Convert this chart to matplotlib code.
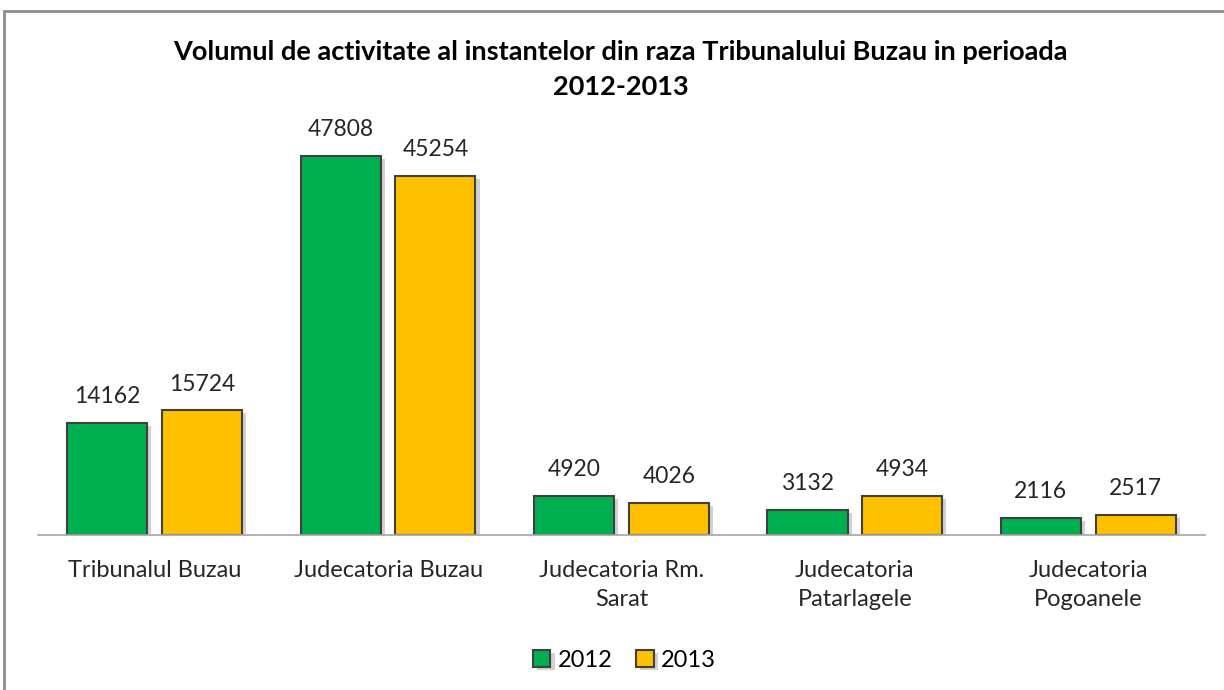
import matplotlib.pyplot as plt
import matplotlib.patheffects as pe
from matplotlib.patches import Rectangle
import numpy as np

categories = ['Tribunalul Buzau', 'Judecatoria Buzau', 'Judecatoria Rm.\nSarat',
              'Judecatoria\nPatarlagele', 'Judecatoria\nPogoanele']
values_2012 = [14162, 47808, 4920, 3132, 2116]
values_2013 = [15724, 45254, 4026, 4934, 2517]

fig = plt.figure(figsize=(12.24, 6.9), dpi=100)
ax = fig.add_axes([0.031, 0.2246, 0.9535, 0.6014])

x = np.arange(len(categories))
w = 0.343
shadow = [pe.SimplePatchShadow(offset=(3, -2), shadow_rgbFace='#000000', alpha=0.18), pe.Normal()]

b1 = ax.bar(x - 0.203, values_2012, w, color='#00B050', edgecolor='#404040', linewidth=1.5,
            label='2012', path_effects=shadow)
b2 = ax.bar(x + 0.203, values_2013, w, color='#FFC000', edgecolor='#404040', linewidth=1.5,
            label='2013', path_effects=shadow)

for bars in (b1, b2):
    for r in bars:
        ax.text(r.get_x() + r.get_width() / 2, r.get_height() + 2000, str(int(r.get_height())),
                ha='center', va='bottom', fontsize=16.5, color='#262626', family='Lato')

ax.set_xlim(-0.5, 4.5)
ax.set_ylim(0, 52340)
ax.set_yticks([])
ax.set_xticks(x)
ax.set_xticklabels(categories, fontsize=17, color='#262626', family='Lato', linespacing=1.45)
ax.tick_params(axis='x', length=0, pad=18)
for s in ['top', 'right', 'left']:
    ax.spines[s].set_visible(False)
ax.spines['bottom'].set_color('#A6A6A6')
ax.spines['bottom'].set_linewidth(1.2)

fig.text(0.507, 0.8986, 'Volumul de activitate al instantelor din raza Tribunalului Buzau in perioada\n2012-2013',
         ha='center', va='center', fontsize=19.5, fontweight='bold', family='Lato', linespacing=1.55)

leg = fig.legend(handles=[b1, b2], loc='center', bbox_to_anchor=(0.51, 0.043), ncol=2, frameon=False,
                 handlelength=0.75, handleheight=0.75, handletextpad=0.3, columnspacing=1.0,
                 prop={'family': 'Lato', 'size': 17})

fig.patches.append(Rectangle((4 / 1224, -0.1), 1.2, 1 - 11 / 690 + 0.1, transform=fig.transFigure,
                             fill=False, edgecolor='#8C8C8C', linewidth=2))

fig.savefig('out.png', dpi=100)
